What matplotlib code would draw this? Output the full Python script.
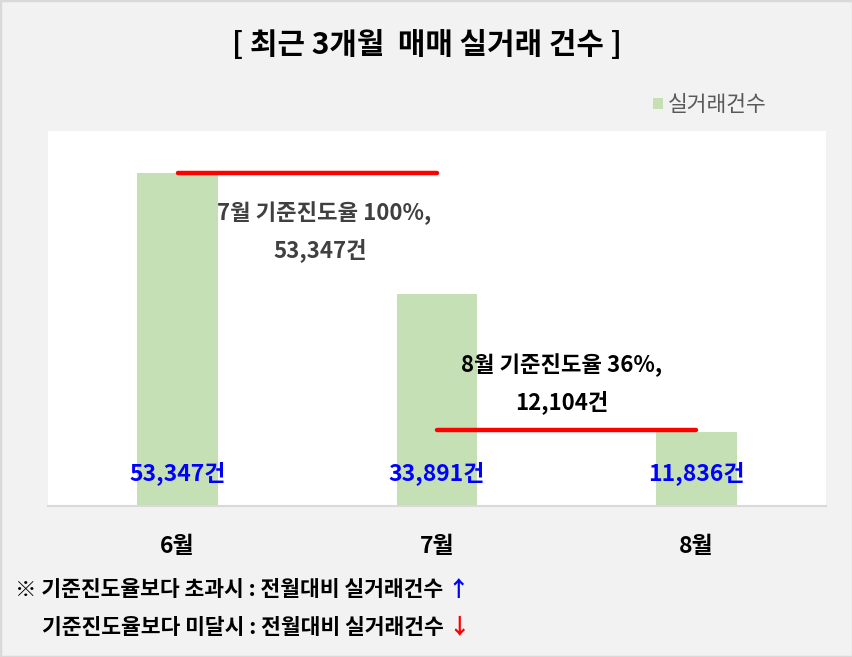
import matplotlib
matplotlib.use("Agg")
import matplotlib.pyplot as plt
from matplotlib.patches import Rectangle, Patch
from matplotlib.transforms import blended_transform_factory
import numpy as np

plt.rcParams['font.family'] = ['Noto Sans CJK KR', 'DejaVu Sans']

# ---- data ----
categories = ['6월', '7월', '8월']
values = [53347, 33891, 11836]
value_labels = ['53,347건', '33,891건', '11,836건']
series_name = '실거래건수'
ref_values = [53347, 12104]          # 기준진도율 reference levels
ref_spans = [(0, 1), (1, 2)]         # category index ranges of the red lines
ref_line1 = ['7월 기준진도율 100%,', '53,347건']
ref_line2 = ['8월 기준진도율 36%,', '12,104건']
title = '[ 최근 3개월  매매 실거래 건수 ]'
note1 = '※ 기준진도율보다 초과시 : 전월대비 실거래건수'
note2 = '기준진도율보다 미달시 : 전월대비 실거래건수'
y_max = 60000

W, H = 853, 657
fig = plt.figure(figsize=(W / 100, H / 100), dpi=100, facecolor='#f2f2f2')

# outer border
fig.patches.append(Rectangle((0, 0), 1, 1, transform=fig.transFigure, fill=False,
                             edgecolor='#d9d9d9', linewidth=2.5, zorder=10))

ax = fig.add_axes([48 / W, (H - 506) / H, 778 / W, 375 / H])
ax.set_facecolor('white')
x = np.arange(len(categories))
ax.bar(x, values, width=0.31, color='#c5e0b4', label=series_name, zorder=2)
ax.set_xlim(-0.5, len(categories) - 0.5)
ax.set_ylim(0, y_max)
ax.set_yticks([])
ax.set_xticks([])
for s in ['top', 'left', 'right']:
    ax.spines[s].set_visible(False)
ax.spines['bottom'].set_color('#d9d9d9')
ax.spines['bottom'].set_linewidth(1.5)

trans = blended_transform_factory(ax.transData, ax.transAxes)
for xi, lab in zip(x, value_labels):
    ax.text(xi, 0.088, lab, transform=trans, ha='center', va='center',
            color='#0000ff', fontsize=16.5, fontweight='bold', zorder=5)
for xi, cat in zip(x, categories):
    ax.text(xi, -0.109, cat, transform=trans, ha='center', va='center',
            color='black', fontsize=16.5, fontweight='bold', clip_on=False)

# red reference lines
for (x0, x1), rv in zip(ref_spans, ref_values):
    ax.plot([x0, x1], [rv, rv], color='#ff0000', linewidth=3.2,
            solid_capstyle='round', zorder=4)

# reference annotations
ax.text(0.355, 0.781, ref_line1[0], transform=ax.transAxes,
        ha='center', va='center', color='#404040', fontsize=16, fontweight='bold', zorder=5)
ax.text(0.350, 0.683, ref_line1[1], transform=ax.transAxes,
        ha='center', va='center', color='#404040', fontsize=16, fontweight='bold', zorder=5)
ax.text(0.660, 0.376, ref_line2[0], transform=ax.transAxes,
        ha='center', va='center', color='black', fontsize=16, fontweight='bold', zorder=5)
ax.text(0.660, 0.277, ref_line2[1], transform=ax.transAxes,
        ha='center', va='center', color='black', fontsize=16, fontweight='bold', zorder=5)

# title
fig.text(0.5, 1 - 45 / H, title, ha='center', va='center', fontsize=21.5,
         fontweight='bold', color='black')

# legend
fig.legend(handles=[Patch(facecolor='#c5e0b4', label=series_name)],
           loc='center left', bbox_to_anchor=(653 / W, 1 - 105 / H),
           frameon=False, fontsize=15.5, handlelength=0.45, handleheight=0.45,
           handletextpad=0.25, labelcolor='#595959', borderpad=0, borderaxespad=0)

# footnotes
t1 = fig.text(15 / W, 1 - 590 / H, note1, ha='left', va='center', fontsize=15.5,
              fontweight='bold', color='black')
t2 = fig.text(42 / W, 1 - 627 / H, note2, ha='left', va='center', fontsize=15.5,
              fontweight='bold', color='black')
ax.annotate('↑', xy=(1, 0.5), xycoords=t1, xytext=(3, 0), textcoords='offset points',
            va='center', ha='left', color='#0000ff', fontsize=15.5, fontweight='bold',
            annotation_clip=False)
ax.annotate('↓', xy=(1, 0.5), xycoords=t2, xytext=(3, 0), textcoords='offset points',
            va='center', ha='left', color='#ff0000', fontsize=15.5, fontweight='bold',
            annotation_clip=False)

fig.savefig('out.png', dpi=100, facecolor=fig.get_facecolor())
